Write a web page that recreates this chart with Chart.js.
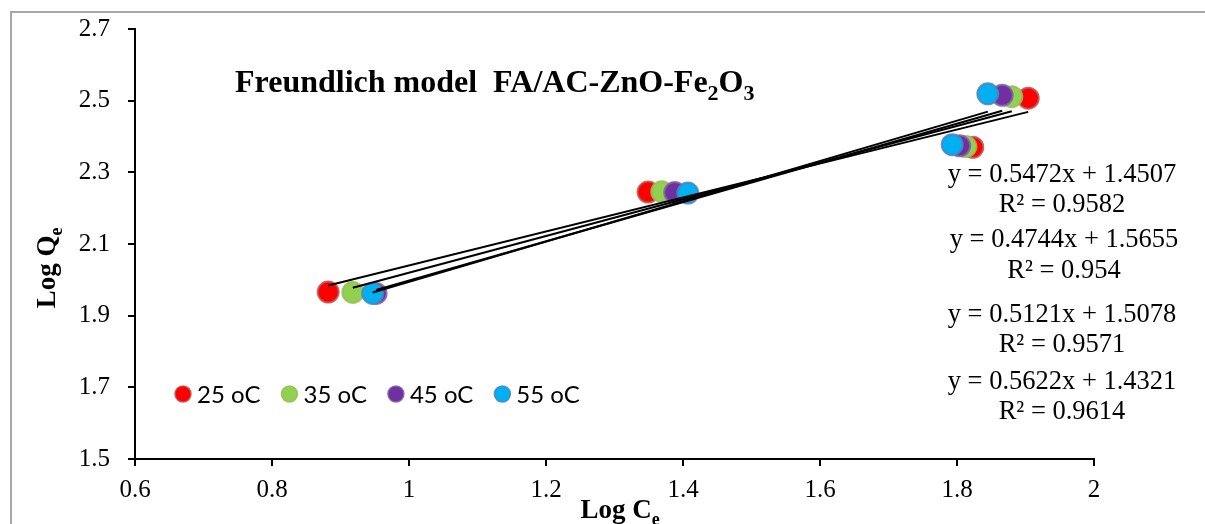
<!DOCTYPE html>
<html>
<head>
<meta charset="utf-8">
<script src="https://cdn.jsdelivr.net/npm/chart.js@4"></script>
<style>
  body { margin: 0; background: #fff; }
  #wrap { width: 1205px; height: 524px; }
</style>
</head>
<body>
<div id="wrap"><canvas id="myChart" width="1205" height="524"></canvas></div>
<script>
// data
const seriesNames = ['25 oC', '35 oC', '45 oC', '55 oC'];
const logCe25 = [0.882, 1.349, 1.823, 1.904];
const logQe25 = [1.966, 2.245, 2.370, 2.507];
const logCe35 = [0.918, 1.369, 1.813, 1.880];
const logQe35 = [1.965, 2.246, 2.372, 2.511];
const logCe45 = [0.952, 1.388, 1.804, 1.866];
const logQe45 = [1.962, 2.244, 2.374, 2.515];
const logCe55 = [0.947, 1.407, 1.793, 1.845];
const logQe55 = [1.962, 2.242, 2.377, 2.519];

// linear fits, same order as the series
const slopes = [0.4744, 0.5121, 0.5472, 0.5622];
const intercepts = [1.5655, 1.5078, 1.4507, 1.4321];

// equation labels as they stand on the right, top to bottom
const eqLabels = ['y = 0.5472x + 1.4507', 'y = 0.4744x + 1.5655', 'y = 0.5121x + 1.5078', 'y = 0.5622x + 1.4321'];
const r2Labels = ['R² = 0.9582', 'R² = 0.954', 'R² = 0.9571', 'R² = 0.9614'];

const xTickLabels = ['0.6', '0.8', '1', '1.2', '1.4', '1.6', '1.8', '2'];
const yTickLabels = ['1.5', '1.7', '1.9', '2.1', '2.3', '2.5', '2.7'];

const fills = ['#FF0000', '#92D050', '#7030A0', '#00B0F0'];
const borders = ['rgba(192,80,77,0.85)', 'rgba(155,187,89,0.85)', 'rgba(128,100,162,0.85)', 'rgba(79,129,189,0.85)'];

const xs = [logCe25, logCe35, logCe45, logCe55];
const ys = [logQe25, logQe35, logQe45, logQe55];

const SERIF = '"Liberation Serif", "Times New Roman", serif';

var datasets = [];
// trend lines on top of the markers
xs.forEach((xarr, i) => {
    var x0 = Math.min(...xarr), x1 = Math.max(...xarr);
    datasets.push({
        label: 'fit ' + seriesNames[i],
        data: [{x: x0, y: slopes[i] * x0 + intercepts[i]}, {x: x1, y: slopes[i] * x1 + intercepts[i]}],
        showLine: true,
        borderColor: '#000',
        borderWidth: 2,
        pointRadius: 0,
        order: 0
    });
});
xs.forEach((xarr, i) => {
    datasets.push({
        label: seriesNames[i],
        data: xarr.map((v, j) => ({x: v, y: ys[i][j]})),
        backgroundColor: fills[i],
        borderColor: borders[i],
        borderWidth: 2,
        pointRadius: 10.5,
        order: 10 - i
    });
});

// text with subscripts: parts = [[text, isSub], ...]
function drawRich(ctx, parts, x, y, size, bold) {
    var w = 0;
    parts.forEach(p => {
        ctx.font = (bold ? 'bold ' : '') + (p[1] ? Math.round(size * 0.68) : size) + 'px ' + SERIF;
        var py = p[1] ? y + size * 0.25 : y;
        ctx.fillText(p[0], x + w, py);
        w += ctx.measureText(p[0]).width;
    });
    return w;
}
function richWidth(ctx, parts, size, bold) {
    var w = 0;
    parts.forEach(p => {
        ctx.font = (bold ? 'bold ' : '') + (p[1] ? Math.round(size * 0.68) : size) + 'px ' + SERIF;
        w += ctx.measureText(p[0]).width;
    });
    return w;
}

const decorations = {
    id: 'decorations',
    beforeDraw(chart) {
        var ctx = chart.ctx;
        ctx.save();
        ctx.fillStyle = '#fff';
        ctx.fillRect(0, 0, chart.width, chart.height);
        ctx.strokeStyle = '#a6a6a6';
        ctx.lineWidth = 2;
        ctx.strokeRect(11, 12, chart.width + 20, chart.height + 20);
        ctx.restore();
    },
    afterDraw(chart) {
        var ctx = chart.ctx;
        ctx.save();
        ctx.fillStyle = '#000';
        ctx.textBaseline = 'alphabetic';
        ctx.textAlign = 'left';

        // title
        drawRich(ctx, [['Freundlich model  FA/AC-ZnO-Fe', false], ['2', true], ['O', false], ['3', true]], 235, 92, 32, true);

        // x axis title
        var xt = [['Log C', false], ['e', true]];
        var w = richWidth(ctx, xt, 27, true);
        drawRich(ctx, xt, 620 - w / 2, 518, 27, true);

        // y axis title
        var yt = [['Log Q', false], ['e', true]];
        w = richWidth(ctx, yt, 27, true);
        ctx.save();
        ctx.translate(55, 268);
        ctx.rotate(-Math.PI / 2);
        drawRich(ctx, yt, -w / 2, 0, 27, true);
        ctx.restore();

        // equations
        ctx.font = '26.5px ' + SERIF;
        ctx.textAlign = 'center';
        ctx.textBaseline = 'middle';
        var eqPos = [[1062, 175, 205], [1064, 240, 271], [1062, 315, 345], [1062, 382, 412]];
        eqLabels.forEach((t, i) => {
            ctx.fillText(t, eqPos[i][0], eqPos[i][1]);
            ctx.fillText(r2Labels[i], eqPos[i][0], eqPos[i][2]);
        });

        // legend inside the plot
        ctx.font = '24px Lato, "Open Sans", sans-serif';
        ctx.textAlign = 'left';
        var lx = 183, ly = 394;
        seriesNames.forEach((name, i) => {
            ctx.beginPath();
            ctx.arc(lx, ly, 8, 0, Math.PI * 2);
            ctx.fillStyle = fills[i];
            ctx.fill();
            ctx.lineWidth = 1.5;
            ctx.strokeStyle = borders[i];
            ctx.stroke();
            ctx.fillStyle = '#000';
            ctx.fillText(name, lx + 14, ly + 1);
            lx += 14 + ctx.measureText(name).width + 29;
        });
        ctx.restore();
    }
};

var ctx = document.getElementById('myChart');
var myChart = new Chart(ctx, {
    type: 'scatter',
    data: { datasets: datasets },
    options: {
        responsive: false,
        animation: false,
        devicePixelRatio: 1,
        events: [],
        layout: { padding: { left: 0, right: 111, top: 29, bottom: 0 } },
        plugins: {
            legend: { display: false },
            tooltip: { enabled: false }
        },
        scales: {
            x: {
                type: 'linear',
                min: 0.6,
                max: 2,
                afterFit: function(scale) { scale.height = 65; },
                border: { color: '#000', width: 2 },
                grid: { drawOnChartArea: false, drawTicks: true, tickLength: 7, color: '#000', lineWidth: 2 },
                ticks: {
                    stepSize: 0.2,
                    padding: 9,
                    color: '#000',
                    font: { family: SERIF, size: 25 },
                    maxRotation: 0,
                    callback: function(value, index) { return xTickLabels[index]; }
                }
            },
            y: {
                type: 'linear',
                min: 1.5,
                max: 2.7,
                afterFit: function(scale) {
                    scale.width = 135;
                    // label padding would otherwise push the plot top down
                    scale.paddingTop = 0;
                    scale.paddingBottom = 0;
                },
                border: { color: '#000', width: 2 },
                grid: { drawOnChartArea: false, drawTicks: true, tickLength: 7, color: '#000', lineWidth: 2 },
                ticks: {
                    stepSize: 0.2,
                    padding: 18,
                    color: '#000',
                    font: { family: SERIF, size: 25 },
                    callback: function(value, index) { return yTickLabels[index]; }
                }
            }
        }
    },
    plugins: [decorations]
});
</script>
</body>
</html>
